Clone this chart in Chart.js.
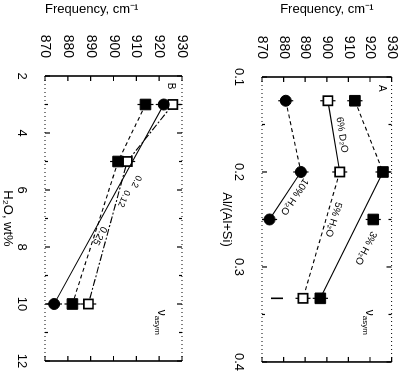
<!DOCTYPE html>
<html>
<head>
<meta charset="utf-8">
<script src="https://cdn.jsdelivr.net/npm/chart.js@4"></script>
<style>
html, body { margin: 0; padding: 0; background: #fff; width: 410px; height: 379px; overflow: hidden; }
.panel { position: absolute; width: 379px; height: 205px; top: 87px; transform: rotate(90deg); }
#p1 { left: -87px; }
#p2 { left: 118px; }
</style>
</head>
<body>
<div class="panel" id="p1"><canvas id="c1" width="379" height="205"></canvas></div>
<div class="panel" id="p2"><canvas id="c2" width="379" height="205"></canvas></div>
<script>
// tick labels
const freqTicks = [870, 880, 890, 900, 910, 920, 930]
const waterTicks = [2, 4, 6, 8, 10, 12]
const alTicks = [0.1, 0.2, 0.3, 0.4]

// left panel: frequency against water content, one line per Al/(Al+Si)
const water125 = [3, 5, 10]
const freq125 = [914, 902, 882]
const water20 = [3, 5, 10]
const freq20 = [926, 906, 889]
const water25 = [3, 10]
const freq25 = [922, 874]

// right panel: frequency against Al/(Al+Si), one line per water content
const al3 = [0.125, 0.2, 0.333]
const freq3 = [913, 926, 897]
const alLone3 = [0.25]
const freqLone3 = [921.5]
const al5 = [0.125, 0.2, 0.333]
const freq5 = [900.5, 906, 889]
const al10 = [0.125, 0.2, 0.25]
const freq10 = [881, 888, 873.5]
const alD2O = [0.333]
const freqD2O = [877]

const freqErr = 3.5

const leftNotes = [
    {text: 'B', x: 2.35, y: 925, angle: 0, size: 10},
    {text: '0.25', x: 7.6, y: 894, angle: 29, size: 10},
    {text: '0.2', x: 5.7, y: 910, angle: 25, size: 9},
    {text: '0.12', x: 6.3, y: 904.5, angle: 25, size: 9},
    {text: '\u03bd', sub: 'asym', x: 10.2, y: 921, angle: 0}
]
const rightNotes = [
    {text: 'A', x: 0.112, y: 925.5, angle: 0, size: 10},
    {text: '6% D\u2082O', x: 0.161, y: 907, angle: -9, size: 10},
    {text: '10% H\u2082O', x: 0.226, y: 885, angle: 34, size: 10},
    {text: '5% H\u2082O', x: 0.25, y: 903, angle: 17, size: 10},
    {text: '3% H\u2082O', x: 0.28, y: 918, angle: 27, size: 10},
    {text: '\u03bd', sub: 'asym', x: 0.345, y: 919.5, angle: 0}
]

const pts = (xs, ys) => xs.map((v, i) => ({x: v, y: ys[i]}))

const filledSquare = {pointStyle: 'rect', pointRadius: 7.5, pointBackgroundColor: '#000', pointBorderColor: '#000', pointBorderWidth: 1}
const openSquare = {pointStyle: 'rect', pointRadius: 6.5, pointBackgroundColor: '#fff', pointBorderColor: '#000', pointBorderWidth: 1.7}
const filledCircle = {pointStyle: 'circle', pointRadius: 5.5, pointBackgroundColor: '#000', pointBorderColor: '#000', pointBorderWidth: 1}

const decor = {
    id: 'decor',
    beforeDatasetsDraw(chart, args, opts) {
        const {ctx, chartArea: a, scales: {x, y}} = chart
        ctx.save()
        ctx.strokeStyle = '#000'
        ctx.lineWidth = 1.6
        ctx.beginPath()
        ctx.moveTo(a.left, a.top); ctx.lineTo(a.left, a.bottom)
        ctx.moveTo(a.right, a.top); ctx.lineTo(a.right, a.bottom)
        ctx.stroke()
        ctx.lineWidth = 1
        ctx.setLineDash([1, 3])
        ctx.beginPath()
        ctx.moveTo(a.left, a.top); ctx.lineTo(a.right, a.top)
        ctx.moveTo(a.left, a.bottom); ctx.lineTo(a.right, a.bottom)
        ctx.stroke()
        ctx.setLineDash([])
        // inward ticks
        ctx.lineWidth = 1.2
        ctx.beginPath()
        for (let v = x.min; v <= x.max + 1e-9; v += opts.xMinor) {
            const px = x.getPixelForValue(v)
            const major = opts.xMajor.some(m => Math.abs(m - v) < 1e-6)
            const len = major ? 5 : 3
            ctx.moveTo(px, a.bottom); ctx.lineTo(px, a.bottom - len)
            ctx.moveTo(px, a.top); ctx.lineTo(px, a.top + len)
        }
        freqTicks.forEach(v => {
            const py = y.getPixelForValue(v)
            ctx.moveTo(a.left, py); ctx.lineTo(a.left + 5, py)
            ctx.moveTo(a.right, py); ctx.lineTo(a.right - 5, py)
        })
        ctx.stroke()
        // error bars on frequency
        ctx.lineWidth = 1.2
        chart.data.datasets.forEach((ds, i) => {
            if (ds.noErr) return
            chart.getDatasetMeta(i).data.forEach((p, j) => {
                const v = ds.data[j].y
                ctx.beginPath()
                ctx.moveTo(p.x, y.getPixelForValue(v - freqErr))
                ctx.lineTo(p.x, y.getPixelForValue(v + freqErr))
                ctx.stroke()
            })
        })
        ctx.restore()
    },
    afterDatasetsDraw(chart, args, opts) {
        const {ctx, scales: {x, y}} = chart
        ctx.save()
        ctx.fillStyle = '#000'
        ctx.textBaseline = 'middle'
        opts.notes.forEach(n => {
            ctx.save()
            ctx.translate(x.getPixelForValue(n.x), y.getPixelForValue(n.y))
            ctx.rotate(n.angle * Math.PI / 180)
            if (n.sub) {
                ctx.textAlign = 'left'
                ctx.font = '12px "Liberation Sans", Arial, sans-serif'
                ctx.fillText(n.text, 0, 0)
                const w = ctx.measureText(n.text).width
                ctx.font = '8px "Liberation Sans", Arial, sans-serif'
                ctx.fillText(n.sub, w, 4)
            } else {
                ctx.textAlign = 'center'
                ctx.font = n.size + 'px "Liberation Sans", Arial, sans-serif'
                ctx.fillText(n.text, 0, 0)
            }
            ctx.restore()
        })
        ctx.restore()
    }
}

Chart.defaults.font.family = '"Liberation Sans", Arial, sans-serif'
Chart.defaults.color = '#000'

function scalesFor(cfg) {
    return {
        x: {
            type: 'linear', min: cfg.xMin, max: cfg.xMax,
            afterBuildTicks: s => { s.ticks = cfg.xTicks.map(v => ({value: v})) },
            afterFit: s => { s.height = cfg.xHeight },
            grid: {display: false}, border: {display: false},
            ticks: {font: {size: 13}, padding: 8, maxRotation: 0, callback: v => String(v)},
            title: {display: true, text: cfg.xTitle, font: {size: 13}, padding: 0}
        },
        y: {
            type: 'linear', min: 870, max: 930,
            afterBuildTicks: s => { s.ticks = freqTicks.map(v => ({value: v})) },
            afterFit: s => { s.width = cfg.yWidth },
            grid: {display: false}, border: {display: false},
            ticks: {font: {size: 14}, padding: 10, callback: v => String(v)},
            title: {display: true, text: 'Frequency, cm\u207b\u00b9', font: {size: 13}, padding: 2, align: cfg.yAlign}
        }
    }
}

const common = {
    responsive: false,
    animation: false,
    devicePixelRatio: 1,
    plugins: {legend: {display: false}, tooltip: {enabled: false}}
}

new Chart(document.getElementById('c1'), {
    type: 'line',
    data: {
        datasets: [
            Object.assign({data: pts(water25, freq25), borderColor: '#000', borderWidth: 1.1}, filledCircle),
            Object.assign({data: pts(water125, freq125), borderColor: '#000', borderWidth: 1.1, borderDash: [4, 3]}, filledSquare),
            Object.assign({data: pts(water20, freq20), borderColor: '#000', borderWidth: 1.1, borderDash: [7, 2, 2, 2]}, openSquare)
        ]
    },
    options: Object.assign({}, common, {
        layout: {padding: {top: 23, right: 18, left: 0, bottom: 0}},
        scales: scalesFor({xMin: 2, xMax: 12, xTicks: waterTicks, xTitle: 'H\u2082O, wt%', xHeight: 45, yWidth: 76, yAlign: 'start'}),
        plugins: Object.assign({}, common.plugins, {decor: {notes: leftNotes, xMinor: 1, xMajor: waterTicks}})
    }),
    plugins: [decor]
})

const dashFirst = {borderDash: c => c.p0DataIndex === 0 ? [4, 3] : undefined}
const dashSecond = {borderDash: c => c.p0DataIndex === 1 ? [4, 3] : undefined}

new Chart(document.getElementById('c2'), {
    type: 'line',
    data: {
        datasets: [
            Object.assign({data: pts(al10, freq10), borderColor: '#000', borderWidth: 1.1, segment: dashFirst}, filledCircle),
            Object.assign({data: pts(al5, freq5), borderColor: '#000', borderWidth: 1.1, segment: dashSecond}, openSquare),
            Object.assign({data: pts(al3, freq3), borderColor: '#000', borderWidth: 1.1, segment: dashFirst}, filledSquare),
            Object.assign({data: pts(alLone3, freqLone3), showLine: false}, filledSquare),
            {data: pts(alD2O, freqD2O), showLine: false, noErr: true, pointStyle: 'line', pointRotation: 90, pointRadius: 6, pointBorderWidth: 1.6, pointBorderColor: '#000'}
        ]
    },
    options: Object.assign({}, common, {
        layout: {padding: {top: 14, right: 15, left: 0, bottom: 14}},
        scales: scalesFor({xMin: 0.1, xMax: 0.4, xTicks: alTicks, xTitle: 'Al/(Al+Si)', xHeight: 43, yWidth: 77, yAlign: 'center'}),
        plugins: Object.assign({}, common.plugins, {decor: {notes: rightNotes, xMinor: 0.05, xMajor: alTicks}})
    }),
    plugins: [decor]
})
</script>
</body>
</html>
